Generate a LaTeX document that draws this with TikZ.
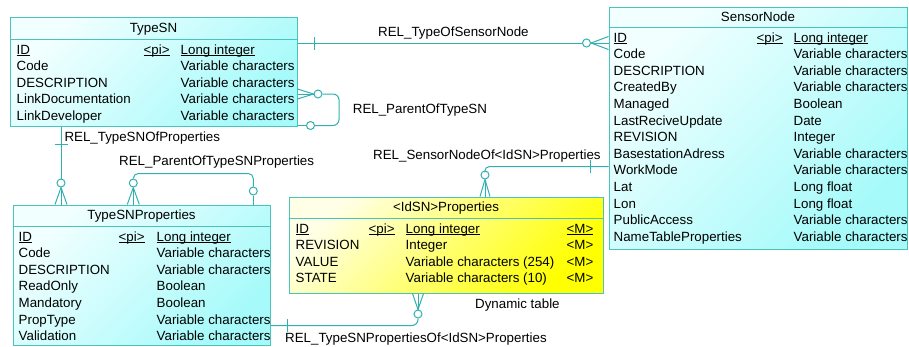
\documentclass[tikz,border=0pt]{standalone}
\usepackage{fontspec}
\setmainfont{Liberation Sans}
\usepackage{tikz}
\usetikzlibrary{calc,shapes}

\definecolor{boxline}{HTML}{48C4BC}
\definecolor{relline}{HTML}{30B0B0}
\definecolor{cyanlight}{HTML}{F2FFFF}
\definecolor{cyandark}{HTML}{A6FAFA}
\definecolor{yellowlight}{HTML}{FFFFE6}
\definecolor{yellowdark}{HTML}{FFFF00}

\tikzstyle{entity} = [draw=boxline, line width=1pt, rectangle, inner sep=0pt]
\tikzstyle{cyanbox} = [entity, top color=cyanlight, bottom color=cyandark, shading angle=45]
\tikzstyle{yellowbox} = [entity, top color=yellowlight, bottom color=yellowdark, shading angle=45]

\setlength{\tabcolsep}{0pt}
% primary key columns are underlined just below the baseline
\newsavebox\pkbox
\newcommand{\pkey}[1]{\leavevmode\sbox\pkbox{#1}\rlap{\rule[-1.6pt]{\wd\pkbox}{0.9pt}}\usebox\pkbox}

\begin{document}
\begin{tikzpicture}[x=1pt, y=-1pt,
    rel/.style={draw=relline, line width=1pt},
    ring/.style={circle, draw=relline, line width=1pt, fill=white, minimum size=8pt, inner sep=0pt},
    title/.style={anchor=base, inner sep=0pt, font=\fontsize{13.33}{16}\selectfont},
    rows/.style={anchor=base west, inner sep=0pt, font=\fontsize{13.33}{16.6}\selectfont},
    lbl/.style={anchor=base west, inner sep=0pt, font=\fontsize{13.33}{16}\selectfont}]

\useasboundingbox (0,0) rectangle (909,346);

% tables
\node[cyanbox, minimum width=287pt, minimum height=109pt] (typesn) at (153.5,72) {};
\node[cyanbox, minimum width=298pt, minimum height=242pt] (sensornode) at (758,128) {};
\node[cyanbox, minimum width=257pt, minimum height=140pt] (tsprops) at (141.5,275) {};
\node[yellowbox, minimum width=314pt, minimum height=96pt] (idsnprops) at (446,245) {};

% title rows
\draw[boxline, line width=1pt] ($(typesn.north west)+(0,22)$) -- ($(typesn.north east)+(0,22)$);
\draw[boxline, line width=1pt] ($(sensornode.north west)+(0,21)$) -- ($(sensornode.north east)+(0,21)$);
\draw[boxline, line width=1pt] ($(tsprops.north west)+(0,22)$) -- ($(tsprops.north east)+(0,22)$);
\draw[boxline, line width=1pt] ($(idsnprops.north west)+(0,22)$) -- ($(idsnprops.north east)+(0,22)$);

\node[title] (typesntitle) at ($(typesn.north)+(0,15.3)$) {TypeSN};
\node[title] (sensornodetitle) at ($(sensornode.north)+(0,15)$) {SensorNode};
\node[title] (tspropstitle) at ($(tsprops.north)+(0,14.5)$) {TypeSNProperties};
\node[title] (idsnpropstitle) at ($(idsnprops.north)+(0,14.5)$) {<IdSN>Properties};

% columns, cut at the right border
\begin{scope}
  \clip ($(typesn.south west)+(1,-1)$) rectangle ($(typesn.north east)+(-1,1)$);
  \node[rows] (typesnrows) at ($(typesn.north west)+(7,37)$) {%
    \begin{tabular}[t]{p{127pt}p{37pt}l}
      \pkey{ID} & \pkey{<pi>} & \pkey{Long integer}\\
      Code & & Variable characters\\
      DESCRIPTION & & Variable characters\\
      LinkDocumentation & & Variable characters\\
      LinkDeveloper & & Variable characters
    \end{tabular}};
\end{scope}

\begin{scope}
  \clip ($(sensornode.south west)+(1,-1)$) rectangle ($(sensornode.north east)+(-1,1)$);
  \node[rows] (sensornoderows) at ($(sensornode.north west)+(5,35.5)$) {%
    \begin{tabular}[t]{p{143pt}p{37pt}l}
      \pkey{ID} & \pkey{<pi>} & \pkey{Long integer}\\
      Code & & Variable characters\\
      DESCRIPTION & & Variable characters\\
      CreatedBy & & Variable characters\\
      Managed & & Boolean\\
      LastReciveUpdate & & Date\\
      REVISION & & Integer\\
      BasestationAdress & & Variable characters\\
      WorkMode & & Variable characters\\
      Lat & & Long float\\
      Lon & & Long float\\
      PublicAccess & & Variable characters\\
      NameTableProperties & & Variable characters
    \end{tabular}};
\end{scope}

\begin{scope}
  \clip ($(tsprops.south west)+(1,-1)$) rectangle ($(tsprops.north east)+(-1,1)$);
  \node[rows] (tspropsrows) at ($(tsprops.north west)+(6,36.5)$) {%
    \begin{tabular}[t]{p{100pt}p{38pt}l}
      \pkey{ID} & \pkey{<pi>} & \pkey{Long integer}\\
      Code & & Variable characters\\
      DESCRIPTION & & Variable characters\\
      ReadOnly & & Boolean\\
      Mandatory & & Boolean\\
      PropType & & Variable characters\\
      Validation & & Variable characters
    \end{tabular}};
\end{scope}

\node[rows] (idsnpropsrows) at ($(idsnprops.north west)+(7,36.5)$) {%
  \begin{tabular}[t]{p{73pt}p{37pt}p{161pt}l}
    \pkey{ID} & \pkey{<pi>} & \pkey{Long integer} & \pkey{<M>}\\
    REVISION & & Integer & <M>\\
    VALUE & & Variable characters (254) & <M>\\
    STATE & & Variable characters (10) & <M>
  \end{tabular}};

\node[lbl] (dyntable) at (475,308.3) {Dynamic table};

% REL_TypeOfSensorNode
\node[ring] (c1) at (586.5,43) {};
\draw[rel] (typesn.east |- c1) -- (c1.west);
\draw[rel] ($(typesn.east |- c1)+(17,-6.5)$) -- ++(0,13);
\foreach \d in {-6.5,0,6.5} \draw[rel] (c1.east) -- ($(sensornode.west |- c1)+(0,\d)$);
\node[lbl] (reltype) at (378,36.7) {REL\_TypeOfSensorNode};

% REL_ParentOfTypeSN
\node[ring] (c2) at (318,94) {};
\node[ring] (c3) at (310.5,125.5) {};
\foreach \d in {-5,0,5} \draw[rel] (c2.west) -- ($(typesn.east |- c2)+(0,\d)$);
\draw[rel, rounded corners=6pt] (c2.east) -- ++(16.5,0) |- (c3.east);
\draw[rel] (typesn.east |- c3) -- (c3.west);
\node[lbl] (relparent) at (352.7,113.3) {REL\_ParentOfTypeSN};

% REL_TypeSNOfProperties
\node[ring] (c4) at (61,183) {};
\draw[rel] (c4 |- typesn.south) -- (c4.north);
\draw[rel] ($(c4 |- typesn.south)+(-6.5,17.5)$) -- ++(13,0);
\foreach \d in {-6,0,6} \draw[rel] (c4.south) -- ($(c4 |- tsprops.north)+(\d,0)$);
\node[lbl] (reltsprops) at (64.3,141) {REL\_TypeSNOfProperties};

% REL_ParentOfTypeSNProperties
\node[ring] (c5) at (133.3,183) {};
\node[ring] (c6) at (253.3,191) {};
\foreach \d in {-6,0,6} \draw[rel] (c5.south) -- ($(c5 |- tsprops.north)+(\d,0)$);
\draw[rel, rounded corners=5pt] (c5.north) -- ++(0,-5) -| (c6.north);
\draw[rel] (c6.south) -- (c6 |- tsprops.north);
\node[lbl] (relparentprops) at (119,165.7) {REL\_ParentOfTypeSNProperties};

% REL_SensorNodeOf<IdSN>Properties
\node[ring] (c7) at (485,175) {};
\draw[rel, rounded corners=4pt] (c7.north) |- ($(sensornode.west)+(0,38.7)$);
\draw[rel] ($(sensornode.west)+(-18,32.2)$) -- ++(0,13);
\foreach \d in {-5,0,5} \draw[rel] (c7.south) -- ($(c7 |- idsnprops.north)+(\d,0)$);
\node[lbl] (relsensor) at (373,159) {REL\_SensorNodeOf<IdSN>Properties};

% REL_TypeSNPropertiesOf<IdSN>Properties
\node[ring] (c8) at (418,314) {};
\draw[rel, rounded corners=6pt] (c8.south) |- ($(tsprops.east)+(0,50.5)$);
\draw[rel] ($(tsprops.east)+(17,44)$) -- ++(0,13);
\foreach \d in {-5.5,0,5.5} \draw[rel] (c8.north) -- ($(c8 |- idsnprops.south)+(\d,0)$);
\node[lbl] (reltspropsidsn) at (285,342.7) {REL\_TypeSNPropertiesOf<IdSN>Properties};

\end{tikzpicture}
\end{document}
